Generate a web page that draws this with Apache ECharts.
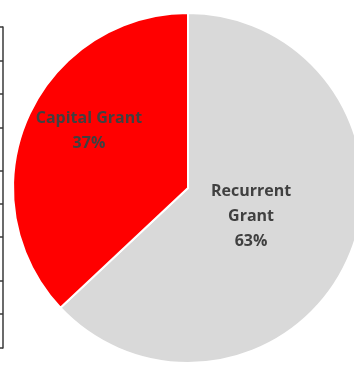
<!DOCTYPE html>
<html>
<head>
<meta charset="utf-8">
<script src="https://cdn.jsdelivr.net/npm/echarts@6/dist/echarts.min.js"></script>
<style>
  html, body { margin: 0; padding: 0; background: #fff; }
  #chart { width: 354px; height: 365px; }
</style>
</head>
<body>
<div id="chart"></div>
<script>
// Grant split
const categories = ['Recurrent Grant', 'Capital Grant'];
const shares = [63, 37];
const colors = ['#D9D9D9', '#FF0000'];
const labelText = ['Recurrent\nGrant\n63%', 'Capital Grant\n37%'];
// Row dividers of the neighbouring table edge
const rowLines = [0, 34, 67, 101, 144, 177, 210, 254, 287, 321];
// Label nudges per slice
const labelShift = [[-20, -8], [-16, -21]];

const chart = echarts.init(document.getElementById('chart'));
chart.setOption({
  animation: false,
  grid: { left: 3, top: 27, height: 321, width: 1 },
  xAxis: { type: 'value', show: false },
  yAxis: {
    type: 'value', min: 0, max: 321, inverse: true,
    splitLine: { show: false },
    axisLabel: { show: false },
    axisLine: { show: true, lineStyle: { color: '#3a3a3a', width: 1.5 } },
    axisTick: { show: true, length: 3, customValues: rowLines, lineStyle: { color: '#3a3a3a', width: 1.5 } }
  },
  series: [{
    type: 'pie',
    center: [188, 188],
    radius: 175,
    startAngle: 90,
    clockwise: true,
    itemStyle: { borderColor: '#fff', borderWidth: 2 },
    label: {
      show: true,
      position: 'inside',
      formatter: p => labelText[p.dataIndex],
      color: '#404040',
      fontFamily: 'Open Sans',
      fontWeight: 'bold',
      fontSize: 16,
      lineHeight: 25
    },
    labelLine: { show: false },
    labelLayout: p => ({ dx: labelShift[p.dataIndex][0], dy: labelShift[p.dataIndex][1] }),
    emphasis: { disabled: true },
    data: categories.map((c, i) => ({ name: c, value: shares[i], itemStyle: { color: colors[i] } }))
  }]
});
</script>
</body>
</html>
